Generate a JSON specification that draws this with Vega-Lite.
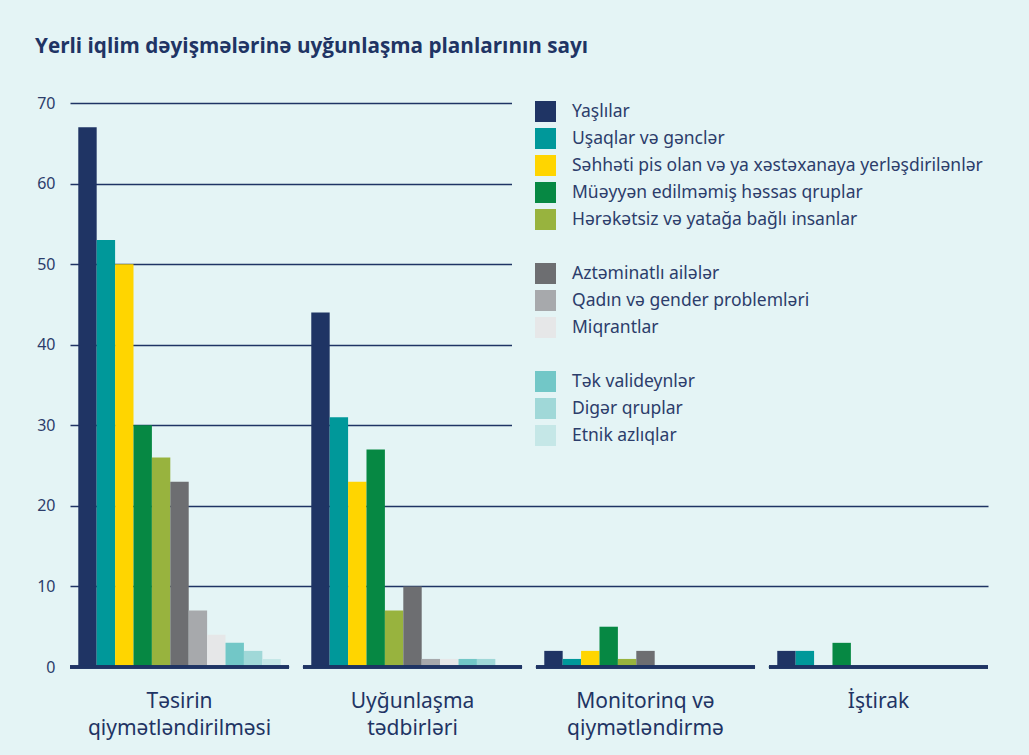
{
  "$schema": "https://vega.github.io/schema/vega-lite/v6.json",
  "width": 918,
  "height": 564,
  "autosize": {"type": "none"},
  "padding": {"left": 70, "top": 103, "right": 41, "bottom": 88},
  "background": "#e4f4f5",
  "title": {
    "text": "Yerli iqlim dəyişmələrinə uyğunlaşma planlarının sayı",
    "anchor": "start",
    "frame": "group",
    "dx": -35,
    "offset": 4,
    "baseline": "alphabetic",
    "font": "Open Sans",
    "fontSize": 20.7,
    "fontWeight": "bold",
    "color": "#1f3464"
  },
  "data": {
    "values": [
      {"g": "Təsirin qiymətləndirilməsi", "s": "Yaşlılar", "v": 67},
      {"g": "Təsirin qiymətləndirilməsi", "s": "Uşaqlar və gənclər", "v": 53},
      {"g": "Təsirin qiymətləndirilməsi", "s": "Səhhəti pis olan və ya xəstəxanaya yerləşdirilənlər", "v": 50},
      {"g": "Təsirin qiymətləndirilməsi", "s": "Müəyyən edilməmiş həssas qruplar", "v": 30},
      {"g": "Təsirin qiymətləndirilməsi", "s": "Hərəkətsiz və yatağa bağlı insanlar", "v": 26},
      {"g": "Təsirin qiymətləndirilməsi", "s": "Aztəminatlı ailələr", "v": 23},
      {"g": "Təsirin qiymətləndirilməsi", "s": "Qadın və gender problemləri", "v": 7},
      {"g": "Təsirin qiymətləndirilməsi", "s": "Miqrantlar", "v": 4},
      {"g": "Təsirin qiymətləndirilməsi", "s": "Tək valideynlər", "v": 3},
      {"g": "Təsirin qiymətləndirilməsi", "s": "Digər qruplar", "v": 2},
      {"g": "Təsirin qiymətləndirilməsi", "s": "Etnik azlıqlar", "v": 1},
      {"g": "Uyğunlaşma tədbirləri", "s": "Yaşlılar", "v": 44},
      {"g": "Uyğunlaşma tədbirləri", "s": "Uşaqlar və gənclər", "v": 31},
      {"g": "Uyğunlaşma tədbirləri", "s": "Səhhəti pis olan və ya xəstəxanaya yerləşdirilənlər", "v": 23},
      {"g": "Uyğunlaşma tədbirləri", "s": "Müəyyən edilməmiş həssas qruplar", "v": 27},
      {"g": "Uyğunlaşma tədbirləri", "s": "Hərəkətsiz və yatağa bağlı insanlar", "v": 7},
      {"g": "Uyğunlaşma tədbirləri", "s": "Aztəminatlı ailələr", "v": 10},
      {"g": "Uyğunlaşma tədbirləri", "s": "Qadın və gender problemləri", "v": 1},
      {"g": "Uyğunlaşma tədbirləri", "s": "Miqrantlar", "v": 1},
      {"g": "Uyğunlaşma tədbirləri", "s": "Tək valideynlər", "v": 1},
      {"g": "Uyğunlaşma tədbirləri", "s": "Digər qruplar", "v": 1},
      {"g": "Uyğunlaşma tədbirləri", "s": "Etnik azlıqlar", "v": 0},
      {"g": "Monitorinq və qiymətləndirmə", "s": "Yaşlılar", "v": 2},
      {"g": "Monitorinq və qiymətləndirmə", "s": "Uşaqlar və gənclər", "v": 1},
      {"g": "Monitorinq və qiymətləndirmə", "s": "Səhhəti pis olan və ya xəstəxanaya yerləşdirilənlər", "v": 2},
      {"g": "Monitorinq və qiymətləndirmə", "s": "Müəyyən edilməmiş həssas qruplar", "v": 5},
      {"g": "Monitorinq və qiymətləndirmə", "s": "Hərəkətsiz və yatağa bağlı insanlar", "v": 1},
      {"g": "Monitorinq və qiymətləndirmə", "s": "Aztəminatlı ailələr", "v": 2},
      {"g": "Monitorinq və qiymətləndirmə", "s": "Qadın və gender problemləri", "v": 0},
      {"g": "Monitorinq və qiymətləndirmə", "s": "Miqrantlar", "v": 0},
      {"g": "Monitorinq və qiymətləndirmə", "s": "Tək valideynlər", "v": 0},
      {"g": "Monitorinq və qiymətləndirmə", "s": "Digər qruplar", "v": 0},
      {"g": "Monitorinq və qiymətləndirmə", "s": "Etnik azlıqlar", "v": 0},
      {"g": "İştirak", "s": "Yaşlılar", "v": 2},
      {"g": "İştirak", "s": "Uşaqlar və gənclər", "v": 2},
      {"g": "İştirak", "s": "Səhhəti pis olan və ya xəstəxanaya yerləşdirilənlər", "v": 0},
      {"g": "İştirak", "s": "Müəyyən edilməmiş həssas qruplar", "v": 3},
      {"g": "İştirak", "s": "Hərəkətsiz və yatağa bağlı insanlar", "v": 0},
      {"g": "İştirak", "s": "Aztəminatlı ailələr", "v": 0},
      {"g": "İştirak", "s": "Qadın və gender problemləri", "v": 0},
      {"g": "İştirak", "s": "Miqrantlar", "v": 0},
      {"g": "İştirak", "s": "Tək valideynlər", "v": 0},
      {"g": "İştirak", "s": "Digər qruplar", "v": 0},
      {"g": "İştirak", "s": "Etnik azlıqlar", "v": 0}
    ]
  },
  "encoding": {
    "x": {
      "field": "g",
      "type": "nominal",
      "sort": ["Təsirin qiymətləndirilməsi", "Uyğunlaşma tədbirləri", "Monitorinq və qiymətləndirmə", "İştirak"],
      "scale": {"paddingInner": 0.06, "paddingOuter": 0},
      "axis": {
        "title": null,
        "domain": false,
        "ticks": false,
        "labelAngle": 0,
        "labelPadding": 23,
        "labelFont": "Noto Sans",
        "labelFontSize": 21,
        "labelColor": "#1f3464",
        "labelLineHeight": 27,
        "labelBaseline": "top",
        "labelLimit": 300,
        "labelExpr": "datum.label == 'Monitorinq və qiymətləndirmə' ? ['Monitorinq və', 'qiymətləndirmə'] : split(datum.label, ' ')"
      }
    }
  },
  "layer": [
    {
      "mark": {"type": "bar"},
      "encoding": {
        "xOffset": {
          "field": "s",
          "type": "nominal",
          "scale": {
            "domain": ["Yaşlılar", "Uşaqlar və gənclər", "Səhhəti pis olan və ya xəstəxanaya yerləşdirilənlər", "Müəyyən edilməmiş həssas qruplar", "Hərəkətsiz və yatağa bağlı insanlar", "Aztəminatlı ailələr", "Qadın və gender problemləri", "Miqrantlar", "Tək valideynlər", "Digər qruplar", "Etnik azlıqlar"],
            "paddingInner": 0,
            "paddingOuter": 0.45
          }
        },
        "y": {
          "field": "v",
          "type": "quantitative",
          "scale": {"domain": [0, 70], "nice": false},
          "axis": {
            "title": null,
            "values": [0, 10, 20, 30, 40, 50, 60, 70],
            "domain": false,
            "ticks": false,
            "labelPadding": 15,
            "labelFont": "Noto Sans",
            "labelFontSize": 16,
            "labelColor": "#2c3d6b",
            "gridColor": "#1f3464",
            "gridWidth": 1.4,
            "gridOpacity": {"condition": {"test": "datum.value === 0", "value": 0}, "value": 1}
          }
        },
        "color": {
          "field": "s",
          "type": "nominal",
          "scale": {
            "domain": ["Yaşlılar", "Uşaqlar və gənclər", "Səhhəti pis olan və ya xəstəxanaya yerləşdirilənlər", "Müəyyən edilməmiş həssas qruplar", "Hərəkətsiz və yatağa bağlı insanlar", " ", "Aztəminatlı ailələr", "Qadın və gender problemləri", "Miqrantlar", "  ", "Tək valideynlər", "Digər qruplar", "Etnik azlıqlar"],
            "range": ["#1f3464", "#00989a", "#ffd500", "#068843", "#98b33e", "transparent", "#6d6e71", "#a7a9ac", "#e6e7e8", "transparent", "#72c7c7", "#a0d8d8", "#c5e7e7"]
          },
          "legend": {
            "orient": "none",
            "legendX": 442,
            "legendY": -25,
            "padding": 23,
            "fillColor": "#e4f4f5",
            "title": null,
            "symbolType": "square",
            "symbolSize": 441,
            "symbolStrokeWidth": 0,
            "rowPadding": 6,
            "labelOffset": 16,
            "labelFont": "Noto Sans",
            "labelFontSize": 17.5,
            "labelColor": "#2c3d6b",
            "labelLimit": 600
          }
        }
      }
    },
    {
      "mark": {"type": "bar", "fill": "#1f3464", "stroke": "#1f3464", "strokeWidth": 2.5},
      "encoding": {
        "y": {"datum": 0},
        "y2": {"datum": 0}
      }
    }
  ],
  "config": {"view": {"stroke": null}}
}
